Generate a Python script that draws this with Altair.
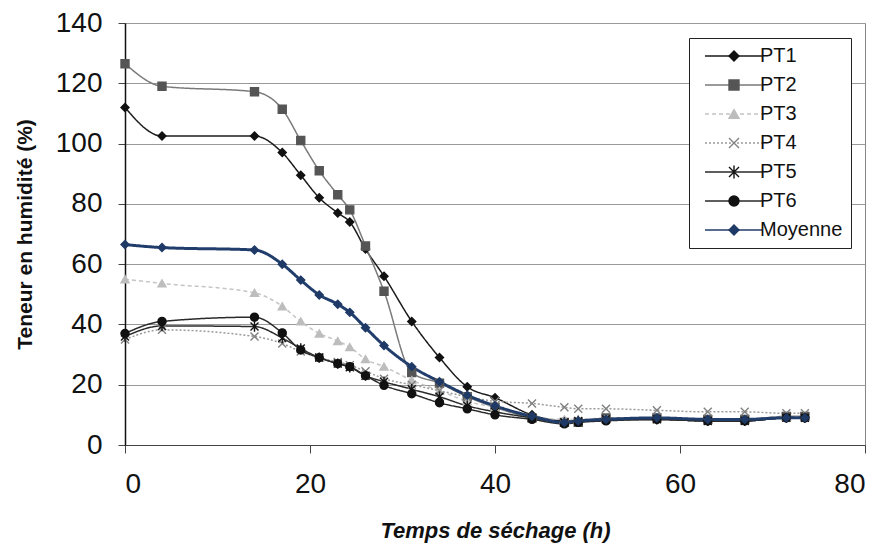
import altair as alt
import pandas as pd

# ---- data ----
temps = [0, 4, 14, 17, 19, 21, 23, 24.3, 26, 28, 31, 34, 37, 40, 44, 47.5, 49, 52, 57.5, 63, 67, 71.5, 73.5]
series_names = ["PT1", "PT2", "PT3", "PT4", "PT5", "PT6", "Moyenne"]
pt1 = [112, 102.5, 102.5, 97, 89.5, 82, 77, 74, 65, 56, 41, 29, 19.3, 15.7, 10, 8, 8, 8.5, 8.5, 8, 8, 9, 9]
pt2 = [126.5, 119, 117.2, 111.4, 101, 91, 83, 78, 66, 51, 24, 20.5, 16, 12.5, 9, 7.5, 7.5, 9, 9, 8.5, 8.5, 9.5, 9.5]
pt3 = [55, 53.6, 50.5, 46, 41, 37, 34.5, 32.5, 28.5, 26, 21.5, 18, 14.5, 12.5, 9.5, 8.5, 8.5, 9, 9, 8.5, 8.5, 9.5, 9.5]
pt4 = [35, 38.2, 36, 33.7, 31, 29, 27.5, 26.5, 24.5, 22, 20, 18, 16, 14.5, 13.8, 12.5, 12, 12, 11.5, 11, 11, 10.5, 10.5]
pt5 = [36, 39.5, 39.3, 35.5, 32, 29, 27, 25.8, 23, 21, 18.5, 16, 13, 11, 9, 7.5, 8, 8.5, 8.5, 8, 8, 9, 9]
pt6 = [37, 41, 42.4, 37.2, 31.5, 29, 27, 26, 23, 19.8, 17, 14, 12, 10, 8.5, 7, 7.5, 8, 8.5, 8, 8, 9, 9]
moyenne = [66.5, 65.5, 64.7, 60, 54.7, 49.8, 46.7, 44, 38.9, 33, 26, 21, 16.5, 13, 9.5, 7.5, 8, 8.5, 9, 8.5, 8.5, 9, 9]

values = {"PT1": pt1, "PT2": pt2, "PT3": pt3, "PT4": pt4, "PT5": pt5, "PT6": pt6, "Moyenne": moyenne}
marker_keys = [n + " (marqueur)" for n in series_names]  # separate key so the two legends stay apart
rows = []
for name, mkey in zip(series_names, marker_keys):
    for t, v in zip(temps, values[name]):
        rows.append({"t": t, "v": v, "serie": name, "marqueur": mkey})
df = pd.DataFrame(rows)

# ---- styles ----
FONT = "Liberation Sans"
line_colors = ["#1a1a1a", "#7a7a7a", "#c4c4c4", "#9a9a9a", "#2a2a2a", "#2a2a2a", "#213d6b"]
marker_colors = ["#111111", "#555555", "#bdbdbd", "#808080", "#111111", "#111111", "#1f3a66"]
dashes = [[1, 0], [1, 0], [4, 3], [2, 2], [1, 0], [1, 0], [1, 0]]
X_PATH = "M -1 -1 L 1 1 M -1 1 L 1 -1"
AST_PATH = "M -1 -1 L 1 1 M -1 1 L 1 -1 M 0 -1.3 L 0 1.3"
shapes = ["diamond", "square", "triangle-up", X_PATH, AST_PATH, "circle", "diamond"]

legend_common = dict(
    orient="none", legendY=15, title=None,
    labelFont=FONT, labelFontSize=20,
    padding=8, rowPadding=9, symbolSize=100,
)

x_enc = alt.X(
    "t:Q",
    scale=alt.Scale(domain=[0, 80], nice=False),
    axis=alt.Axis(
        values=[0, 20, 40, 60, 80], grid=False, title="Temps de séchage (h)",
        titleFont=FONT, titleFontSize=22, titleFontWeight="bold", titleFontStyle="italic",
        titleColor="#111", titlePadding=22,
        labelFont=FONT, labelFontSize=28, labelColor="#111", labelPadding=17,
        tickSize=8, tickColor="#444", domainColor="#444", domainWidth=1.2,
    ),
)
y_enc = alt.Y(
    "v:Q",
    scale=alt.Scale(domain=[0, 140], nice=False),
    axis=alt.Axis(
        values=list(range(0, 141, 20)), grid=True, gridColor="#9a9a9a", gridWidth=1,
        title="Teneur en humidité (%)",
        titleFont=FONT, titleFontSize=21, titleFontWeight="bold", titleColor="#111",
        titlePadding=20,
        labelFont=FONT, labelFontSize=28, labelColor="#111", labelPadding=16,
        tickSize=7, tickColor="#444", domainColor="#111", domainWidth=1.5,
    ),
)

lines = alt.Chart(df).mark_line(interpolate="monotone").encode(
    x=x_enc,
    y=y_enc,
    stroke=alt.Stroke(
        "serie:N",
        scale=alt.Scale(domain=series_names, range=line_colors),
        legend=alt.Legend(
            legendX=564, symbolType="M -0.4 0 L 11 0", symbolStrokeWidth=1.6,
            labelOffset=43, labelColor="#111",
            strokeColor="#222", fillColor="white", **legend_common,
        ),
    ),
    strokeDash=alt.StrokeDash("serie:N", scale=alt.Scale(domain=series_names, range=dashes)),
    strokeWidth=alt.condition(alt.datum.serie == "Moyenne", alt.value(3), alt.value(1.5)),
    detail="serie:N",
)

points = alt.Chart(df).mark_point(filled=False, size=64, strokeWidth=1.4, opacity=1).encode(
    x="t:Q",
    y="v:Q",
    color=alt.Color(
        "marqueur:N",
        scale=alt.Scale(domain=marker_keys, range=marker_colors),
        legend=alt.Legend(
            legendX=591, labelOffset=4, labelExpr="''",
            symbolStrokeWidth=1.4, **legend_common,
        ),
    ),
    fill=alt.Fill("marqueur:N", scale=alt.Scale(domain=marker_keys, range=marker_colors)),
    shape=alt.Shape("marqueur:N", scale=alt.Scale(domain=marker_keys, range=shapes)),
)

chart = (
    alt.layer(lines, points)
    .properties(
        width=740, height=422,
        padding={"left": 125, "top": 23, "right": 22, "bottom": 104},
        autosize=alt.AutoSizeParams(type="none"),
        background="white",
    )
    .configure_view(stroke="#888", strokeWidth=1)
)

chart.save("out.html", embed_options={"renderer": "svg", "actions": False})
